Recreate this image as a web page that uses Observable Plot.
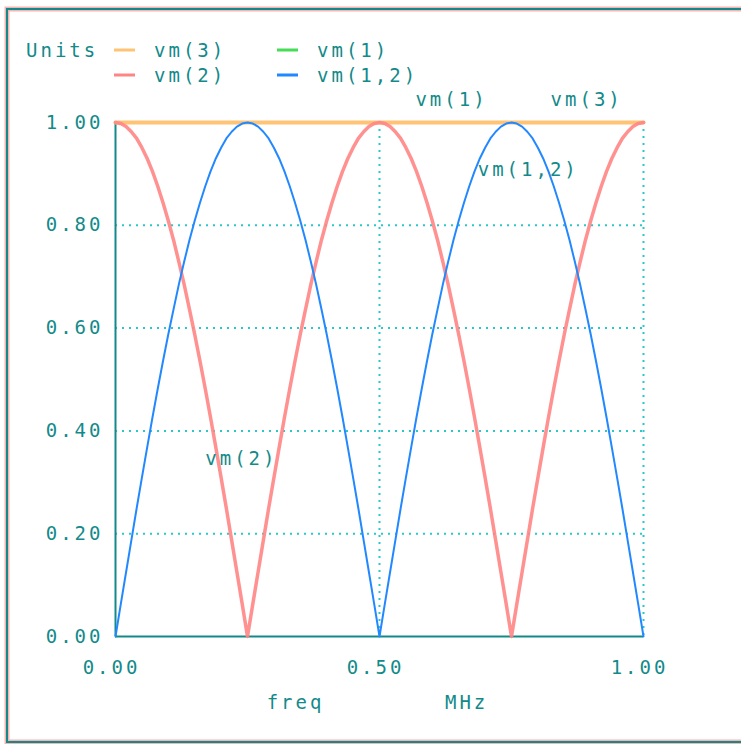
<!DOCTYPE html>
<html><head><meta charset="utf-8">
<script src="https://cdn.jsdelivr.net/npm/d3@7"></script>
<script src="https://cdn.jsdelivr.net/npm/@observablehq/plot@0.6"></script>
<style>
body{margin:0;background:#fff;}
#chart{position:relative;width:741px;height:744px;overflow:hidden;}
svg text{letter-spacing:3px;}
</style>
</head><body><div id="chart"></div>
<script>
const freq = [0,0.01,0.02,0.03,0.04,0.05,0.06,0.07,0.08,0.09,0.10,0.11,0.12,0.13,0.14,0.15,0.16,0.17,0.18,0.19,0.20,0.21,0.22,0.23,0.24,0.25,0.26,0.27,0.28,0.29,0.30,0.31,0.32,0.33,0.34,0.35,0.36,0.37,0.38,0.39,0.40,0.41,0.42,0.43,0.44,0.45,0.46,0.47,0.48,0.49,0.50,0.51,0.52,0.53,0.54,0.55,0.56,0.57,0.58,0.59,0.60,0.61,0.62,0.63,0.64,0.65,0.66,0.67,0.68,0.69,0.70,0.71,0.72,0.73,0.74,0.75,0.76,0.77,0.78,0.79,0.80,0.81,0.82,0.83,0.84,0.85,0.86,0.87,0.88,0.89,0.90,0.91,0.92,0.93,0.94,0.95,0.96,0.97,0.98,0.99,1.00];
const vm3 = [1,1,1,1,1,1,1,1,1,1,1,1,1,1,1,1,1,1,1,1,1,1,1,1,1,1,1,1,1,1,1,1,1,1,1,1,1,1,1,1,1,1,1,1,1,1,1,1,1,1,1,1,1,1,1,1,1,1,1,1,1,1,1,1,1,1,1,1,1,1,1,1,1,1,1,1,1,1,1,1,1,1,1,1,1,1,1,1,1,1,1,1,1,1,1,1,1,1,1,1,1];
const vm1 = [1,1,1,1,1,1,1,1,1,1,1,1,1,1,1,1,1,1,1,1,1,1,1,1,1,1,1,1,1,1,1,1,1,1,1,1,1,1,1,1,1,1,1,1,1,1,1,1,1,1,1,1,1,1,1,1,1,1,1,1,1,1,1,1,1,1,1,1,1,1,1,1,1,1,1,1,1,1,1,1,1,1,1,1,1,1,1,1,1,1,1,1,1,1,1,1,1,1,1,1,1];
const vm2 = [1,0.998,0.992,0.982,0.969,0.951,0.930,0.905,0.876,0.844,0.809,0.771,0.729,0.685,0.637,0.588,0.536,0.482,0.426,0.368,0.309,0.249,0.187,0.125,0.063,0,
  0.063,0.125,0.187,0.249,0.309,0.368,0.426,0.482,0.536,0.588,0.637,0.685,0.729,0.771,0.809,0.844,0.876,0.905,0.930,0.951,0.969,0.982,0.992,0.998,1,
  0.998,0.992,0.982,0.969,0.951,0.930,0.905,0.876,0.844,0.809,0.771,0.729,0.685,0.637,0.588,0.536,0.482,0.426,0.368,0.309,0.249,0.187,0.125,0.063,0,
  0.063,0.125,0.187,0.249,0.309,0.368,0.426,0.482,0.536,0.588,0.637,0.685,0.729,0.771,0.809,0.844,0.876,0.905,0.930,0.951,0.969,0.982,0.992,0.998,1];
const vm12 = [0,0.063,0.125,0.187,0.249,0.309,0.368,0.426,0.482,0.536,0.588,0.637,0.685,0.729,0.771,0.809,0.844,0.876,0.905,0.930,0.951,0.969,0.982,0.992,0.998,1,
  0.998,0.992,0.982,0.969,0.951,0.930,0.905,0.876,0.844,0.809,0.771,0.729,0.685,0.637,0.588,0.536,0.482,0.426,0.368,0.309,0.249,0.187,0.125,0.063,0,
  0.063,0.125,0.187,0.249,0.309,0.368,0.426,0.482,0.536,0.588,0.637,0.685,0.729,0.771,0.809,0.844,0.876,0.905,0.930,0.951,0.969,0.982,0.992,0.998,1,
  0.998,0.992,0.982,0.969,0.951,0.930,0.905,0.876,0.844,0.809,0.771,0.729,0.685,0.637,0.588,0.536,0.482,0.426,0.368,0.309,0.249,0.187,0.125,0.063,0];
const seriesNames = ["vm(3)","vm(1)","vm(2)","vm(1,2)"];
const seriesColors = ["#ffc375","#44dd55","#ff8585","#2288ff"];
const xTicks = [0, 0.5, 1];
const yTicks = [0, 0.2, 0.4, 0.6, 0.8, 1];
const xLabel = "freq";
const xUnit = "MHz";
const yUnit = "Units";

const teal = "#138a8a";
const gridC = "#2cc8c8";
const font = "DejaVu Sans Mono";

const rows = (ys) => freq.map((f, i) => ({f, v: ys[i]}));
const d3s = rows(vm3), d1 = rows(vm1), d2 = rows(vm2), d12 = rows(vm12);

const plot = Plot.plot({
  width: 741, height: 744,
  marginLeft: 115, marginRight: 98, marginTop: 122, marginBottom: 108,
  x: {domain: [0, 1]},
  y: {domain: [0, 1]},
  style: {fontFamily: font, fontSize: "19px", color: teal, background: "transparent", overflow: "visible"},
  marks: [
    Plot.gridY(yTicks.filter(d => d > 0), {stroke: gridC, strokeOpacity: 1, strokeWidth: 2, strokeDasharray: "2,5"}),
    Plot.gridX(xTicks.filter(d => d > 0), {stroke: gridC, strokeOpacity: 1, strokeWidth: 2, strokeDasharray: "2,5"}),
    Plot.ruleX([0], {stroke: teal, strokeWidth: 2}),
    Plot.ruleY([0], {stroke: teal, strokeWidth: 2}),
    Plot.line(d1, {x: "f", y: "v", stroke: seriesColors[1], strokeWidth: 2}),
    Plot.line(d3s, {x: "f", y: "v", stroke: seriesColors[0], strokeWidth: 4}),
    Plot.line(d2, {x: "f", y: "v", stroke: seriesColors[2], strokeWidth: 3.5, strokeOpacity: 0.9}),
    Plot.line(d12, {x: "f", y: "v", stroke: seriesColors[3], strokeWidth: 2}),
    Plot.axisY(yTicks, {tickSize: 0, tickPadding: 12, tickFormat: d3.format(".2f"), label: null, fill: teal, fontSize: 19}),
    Plot.axisX(xTicks, {tickSize: 0, tickPadding: 24, tickFormat: d3.format(".2f"), label: null, fill: teal, fontSize: 19, dx: -4}),
    Plot.text([xLabel], {x: [0.341], frameAnchor: "bottom", dy: 72, text: d => d, fill: teal, fontSize: 19, textAnchor: "middle"}),
    Plot.text([xUnit], {x: [0.665], frameAnchor: "bottom", dy: 72, text: d => d, fill: teal, fontSize: 19, textAnchor: "middle"}),
    Plot.text([seriesNames[1]], {x: [0.568], y: [1.043], text: d => d, fill: teal, fontSize: 19, textAnchor: "start"}),
    Plot.text([seriesNames[0]], {x: [0.824], y: [1.043], text: d => d, fill: teal, fontSize: 19, textAnchor: "start"}),
    Plot.text([seriesNames[3]], {x: [0.686], y: [0.907], text: d => d, fill: teal, fontSize: 19, textAnchor: "start"}),
    Plot.text([seriesNames[2]], {x: [0.170], y: [0.346], text: d => d, fill: teal, fontSize: 19, textAnchor: "start"})
  ]
});
document.getElementById("chart").appendChild(plot);

const svg = d3.select(plot);
// outer frame
svg.insert("rect", ":first-child").attr("x", 7).attr("y", 9).attr("width", 760).attr("height", 733)
  .attr("fill", "none").attr("stroke", "#f6b3b3").attr("stroke-width", 5);
svg.insert("rect", ":nth-child(2)").attr("x", 7).attr("y", 9).attr("width", 760).attr("height", 733)
  .attr("fill", "none").attr("stroke", teal).attr("stroke-width", 2);

// legend
const lg = svg.append("g").attr("font-family", font).attr("font-size", 19).attr("fill", teal)
  .attr("text-anchor", "start");
lg.append("text").attr("x", 26).attr("y", 50).attr("dy", "0.35em").attr("text-anchor", "start").text(yUnit);
const legendOrder = [0, 1, 2, 3];
legendOrder.forEach((k, i) => {
  const col = i % 2, row = Math.floor(i / 2);
  const sx = col === 0 ? 114 : 277;
  const ty = 50 + row * 25;
  lg.append("line").attr("x1", sx).attr("x2", sx + 21).attr("y1", ty).attr("y2", ty)
    .attr("stroke", seriesColors[k]).attr("stroke-width", 3);
  lg.append("text").attr("x", sx + 40).attr("y", ty).attr("dy", "0.35em").attr("text-anchor", "start").text(seriesNames[k]);
});
</script>
</body></html>
